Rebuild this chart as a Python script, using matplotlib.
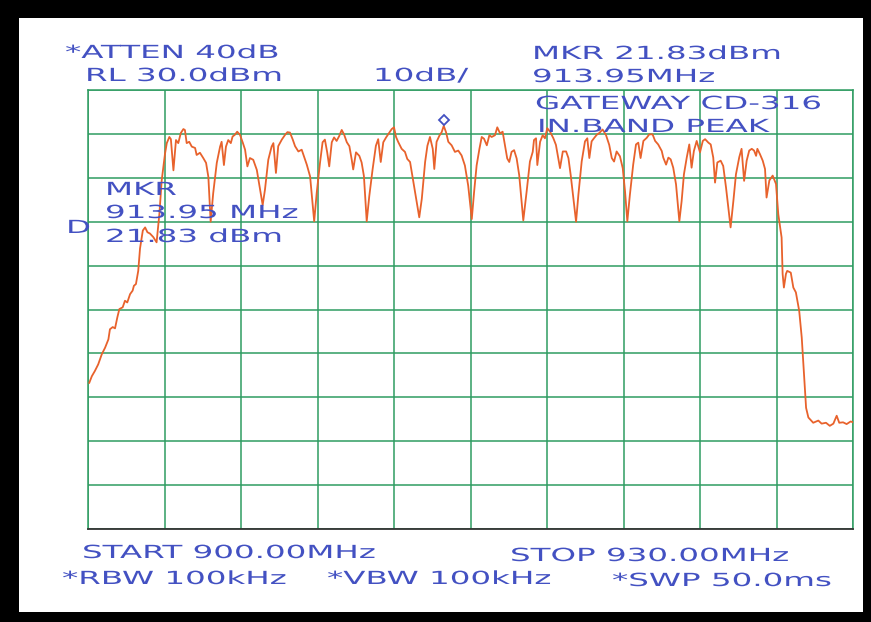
import matplotlib
matplotlib.use("Agg")
import numpy as np
import matplotlib.pyplot as plt
import matplotlib.patheffects as pe
from matplotlib.transforms import Affine2D, ScaledTranslation
from matplotlib.patches import Rectangle

# sweep 900-930 MHz, RL 30 dBm, 10 dB/div
freq_mhz = [
    900.05, 900.15, 900.27, 900.40, 900.54, 900.67, 900.80, 900.86, 900.97, 901.06,
    901.15, 901.23, 901.36, 901.45, 901.54, 901.65, 901.75, 901.80, 901.88, 901.97,
    902.04, 902.15, 902.24, 902.33, 902.43, 902.56, 902.69, 902.80, 902.89, 903.02,
    903.09, 903.19, 903.25, 903.35, 903.45, 903.54, 903.64, 903.74, 903.80, 903.87,
    903.97, 904.07, 904.20, 904.26, 904.39, 904.52, 904.63, 904.72, 904.81, 904.91,
    905.05, 905.18, 905.24, 905.33, 905.41, 905.50, 905.60, 905.67, 905.76, 905.85,
    905.96, 906.07, 906.16, 906.25, 906.35, 906.48, 906.62, 906.75, 906.85, 906.94,
    907.07, 907.20, 907.27, 907.37, 907.46, 907.60, 907.73, 907.82, 907.92, 908.03,
    908.12, 908.25, 908.38, 908.47, 908.58, 908.71, 908.87, 908.97, 909.10, 909.20,
    909.29, 909.38, 909.46, 909.56, 909.65, 909.75, 909.85, 909.95, 910.04, 910.15,
    910.25, 910.34, 910.40, 910.51, 910.64, 910.73, 910.82, 910.93, 911.03, 911.16,
    911.29, 911.38, 911.48, 911.58, 911.69, 911.82, 911.91, 912.00, 912.08, 912.17,
    912.30, 912.43, 912.52, 912.63, 912.76, 912.89, 912.99, 913.09, 913.22, 913.31,
    913.41, 913.52, 913.58, 913.67, 913.78, 913.87, 913.95, 914.04, 914.13, 914.26,
    914.39, 914.52, 914.65, 914.78, 914.91, 915.05, 915.14, 915.24, 915.35, 915.44,
    915.53, 915.64, 915.74, 915.83, 915.96, 916.05, 916.16, 916.26, 916.35, 916.44,
    916.52, 916.61, 916.71, 916.81, 916.91, 917.07, 917.20, 917.33, 917.44, 917.49,
    917.57, 917.62, 917.73, 917.83, 917.92, 918.01, 918.12, 918.25, 918.35, 918.44,
    918.51, 918.62, 918.75, 918.84, 918.93, 919.14, 919.23, 919.36, 919.49, 919.58,
    919.66, 919.75, 919.84, 919.95, 920.05, 920.18, 920.31, 920.44, 920.54, 920.63,
    920.73, 920.86, 920.97, 921.06, 921.15, 921.25, 921.38, 921.49, 921.58, 921.67,
    921.78, 921.91, 922.01, 922.14, 922.24, 922.36, 922.50, 922.56, 922.67, 922.76,
    922.85, 922.95, 923.06, 923.19, 923.28, 923.37, 923.48, 923.58, 923.67, 923.76,
    923.87, 924.00, 924.11, 924.20, 924.33, 924.42, 924.52, 924.59, 924.68, 924.81,
    924.91, 925.02, 925.20, 925.31, 925.41, 925.54, 925.63, 925.73, 925.83, 925.93,
    926.03, 926.12, 926.20, 926.25, 926.35, 926.46, 926.55, 926.61, 926.72, 926.85,
    926.98, 927.07, 927.20, 927.24, 927.29, 927.37, 927.42, 927.56, 927.66, 927.76,
    927.89, 927.99, 928.08, 928.16, 928.25, 928.44, 928.64, 928.77, 928.94, 929.09,
    929.23, 929.36, 929.46, 929.61, 929.75, 929.91, 930.00,
]
level_dbm = [
    -36.7, -35.2, -34.0, -32.5, -30.2, -28.7, -26.8, -24.5, -24.0, -24.3,
    -21.8, -19.9, -19.5, -18.0, -18.4, -16.5, -15.7, -14.6, -14.2, -11.2,
    -6.1, -2.0, -1.3, -2.4, -2.7, -3.5, -4.7, 1.8, 9.4, 15.5,
    17.9, 19.3, 18.8, 11.7, 18.6, 17.9, 20.2, 21.1, 20.9, 17.9,
    18.2, 17.1, 16.8, 15.2, 15.7, 14.5, 13.4, 10.2, 0.0, 6.5,
    13.4, 17.1, 18.2, 12.9, 17.1, 18.6, 17.9, 19.4, 19.8, 20.5,
    19.8, 18.0, 16.4, 12.6, 14.5, 14.1, 11.8, 7.3, 3.8, 7.3,
    14.1, 17.1, 17.9, 11.1, 17.2, 18.7, 19.8, 20.4, 20.3, 18.7,
    17.2, 16.0, 16.4, 14.9, 13.0, 10.3, 0.1, 6.6, 13.5, 18.1,
    18.7, 15.8, 12.6, 18.1, 19.2, 18.4, 19.5, 20.9, 19.9, 18.1,
    17.2, 14.2, 11.9, 15.8, 15.0, 13.5, 10.4, 0.1, 5.8, 11.9,
    17.3, 18.8, 13.6, 18.1, 19.2, 20.3, 21.1, 21.5, 19.3, 18.1,
    16.6, 15.9, 14.3, 13.6, 9.0, 4.4, 1.0, 5.2, 13.6, 17.3,
    19.3, 16.6, 12.0, 18.2, 19.6, 20.4, 21.83, 20.4, 18.2, 17.4,
    15.9, 16.2, 15.1, 12.8, 8.2, 0.6, 6.7, 12.8, 16.6, 19.3,
    18.9, 17.4, 19.7, 19.3, 19.7, 21.5, 20.1, 20.5, 17.4, 14.4,
    13.6, 15.9, 16.3, 14.4, 10.6, 0.3, 6.8, 13.7, 15.9, 18.6,
    19.0, 12.9, 18.2, 19.7, 19.0, 21.3, 20.5, 19.0, 17.5, 14.5,
    12.2, 16.0, 16.0, 14.5, 10.6, 0.0, 6.1, 13.7, 18.3, 19.0,
    14.5, 18.3, 19.0, 19.8, 20.2, 21.0, 19.8, 17.5, 14.5, 13.7,
    16.0, 14.9, 12.2, 6.9, 0.1, 6.1, 13.0, 17.6, 18.0, 14.5,
    18.4, 19.1, 19.9, 19.9, 18.4, 17.6, 16.1, 14.6, 13.0, 14.6,
    14.2, 12.3, 8.5, 0.1, 4.7, 10.8, 14.6, 17.6, 12.3, 16.1,
    18.4, 15.8, 18.4, 18.8, 18.0, 17.6, 14.6, 8.9, 13.5, 13.9,
    12.7, 7.8, -1.3, 4.8, 10.8, 14.7, 16.6, 9.3, 13.9, 16.2,
    16.6, 16.2, 15.0, 16.6, 15.4, 13.9, 12.0, 5.5, 9.4, 10.5,
    8.6, 1.7, -3.6, -11.9, -15.0, -11.9, -11.2, -11.6, -15.0, -16.1,
    -20.3, -26.4, -34.7, -42.4, -44.6, -45.8, -45.3, -46.0, -45.8, -46.5,
    -46.0, -44.2, -45.8, -45.7, -46.1, -45.5, -45.7,
]

mkr_freq = 913.95
mkr_level = 21.83

BLUE = "#4351c2"
TRACE = "#e8622c"
GRID = "#2f9c62"
W, H = 871, 622


class Widen(pe.AbstractPathEffect):
    """Stretch glyphs sideways, plotter-font style."""

    def __init__(self, sx):
        super().__init__()
        self.sx = sx

    def draw_path(self, renderer, gc, tpath, affine, rgbFace=None):
        renderer.draw_path(gc, tpath, Affine2D().scale(self.sx, 1.0) + affine, rgbFace)


fig = plt.figure(figsize=(W / 100, H / 100), dpi=100, facecolor="black")
# white paper inside the black frame
fig.patches.append(Rectangle((19 / W, 10 / H), 844 / W, 594 / H,
                             transform=fig.transFigure, facecolor="white",
                             edgecolor="none", zorder=-10))

ax = fig.add_axes([88 / W, 1 - 529 / H, 765 / W, 439 / H])
ax.set_facecolor("white")
ax.plot(freq_mhz, level_dbm, color=TRACE, lw=1.3, zorder=3)
ax.plot([mkr_freq], [mkr_level], marker="D", ms=5, mfc="none", mec=BLUE, mew=1.3,
        transform=ax.transData + ScaledTranslation(0, 4 / 72, fig.dpi_scale_trans),
        zorder=4)

ax.set_xlim(900, 930)
ax.set_ylim(-70, 30)
ax.set_xticks(np.arange(900, 931, 3))
ax.set_yticks(np.arange(-70, 31, 10))
ax.tick_params(length=0, labelbottom=False, labelleft=False)
ax.grid(True, color=GRID, lw=1.1)
for side in ["left", "right", "top"]:
    ax.spines[side].set_color(GRID)
    ax.spines[side].set_linewidth(1.1)
ax.spines["bottom"].set_color("#333333")
ax.spines["bottom"].set_linewidth(1.3)

# annotation block: (text, left px, baseline px)
notes = [
    ("*ATTEN 40dB", 65, 58),
    ("RL 30.0dBm", 85, 81),
    ("10dB/", 373, 81),
    ("MKR 21.83dBm", 532, 59),
    ("913.95MHz", 532, 82),
    ("GATEWAY CD-316", 535, 109),
    ("IN.BAND PEAK", 537, 132),
    ("MKR", 105, 195),
    ("913.95 MHz", 105, 218),
    ("21.83 dBm", 105, 242),
    ("D", 66, 233),
    ("START 900.00MHz", 82, 558),
    ("STOP 930.00MHz", 510, 561),
    ("*RBW 100kHz", 62, 584),
    ("*VBW 100kHz", 327, 584),
    ("*SWP 50.0ms", 612, 586),
]
for s, x, y in notes:
    fig.text(x / W, 1 - y / H, s, color=BLUE, fontsize=13, family="DejaVu Sans",
             ha="left", va="baseline", path_effects=[Widen(1.8)], zorder=5)

fig.savefig("out.png", dpi=100, facecolor="black")
